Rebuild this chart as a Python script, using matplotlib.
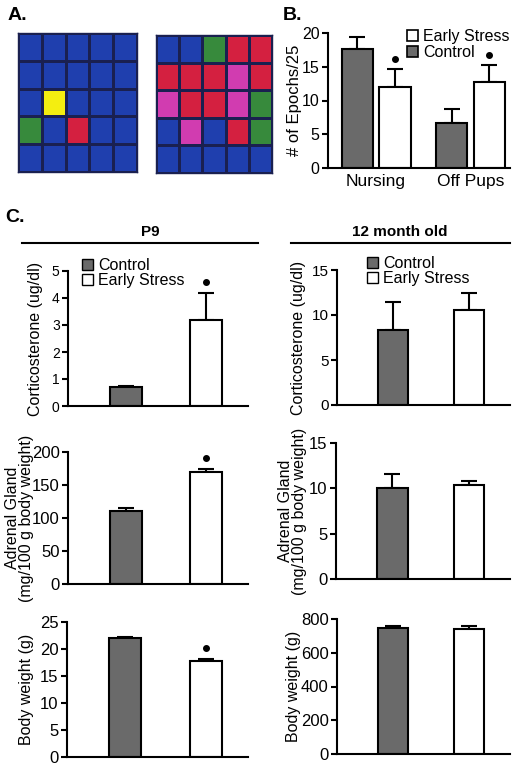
import numpy as np
import matplotlib
matplotlib.use('Agg')
import matplotlib.pyplot as plt
from matplotlib.colors import ListedColormap
from matplotlib.patches import Patch

plt.rcParams['font.family'] = ['Liberation Sans', 'DejaVu Sans']

W, H = 521, 765

# panel A: behaviour grids (B=blue, Y=yellow, G=green, R=red, M=magenta)
grid_control = ['BBBBB',
                'BBBBB',
                'BYBBB',
                'GBRBB',
                'BBBBB']
grid_stress = ['BBGRR',
               'RRRMR',
               'MRRMG',
               'BMBRG',
               'BBBBB']
grid_keys = 'BYGRM'
grid_colors = ['#1f3fae', '#f4ee10', '#378a3c', '#d42040', '#d13cb0']

# panel B: nursing behaviour
b_groups = ['Nursing', 'Off Pups']
b_control = [17.7, 6.6]
b_control_err = [1.7, 2.1]
b_stress = [12.0, 12.8]
b_stress_err = [2.6, 2.4]

# panel C
p9_cort = [0.7, 3.2]
p9_cort_err = [0.05, 1.0]
p9_adrenal = [110, 170]
p9_adrenal_err = [5, 5]
p9_body = [22.0, 17.7]
p9_body_err = [0.3, 0.5]
m12_cort = [8.3, 10.6]
m12_cort_err = [3.1, 1.9]
m12_adrenal = [10.0, 10.4]
m12_adrenal_err = [1.6, 0.4]
m12_body = [745, 738]
m12_body_err = [15, 20]

GRAY = '#6a6a6a'

fig = plt.figure(figsize=(W / 100, H / 100), dpi=100)


def px_axes(x0, y0, x1, y1):
    return fig.add_axes([x0 / W, 1 - y1 / H, (x1 - x0) / W, (y1 - y0) / H])


def style(ax, fs):
    for s in ['top', 'right']:
        ax.spines[s].set_visible(False)
    ax.spines['left'].set_linewidth(1.5)
    ax.spines['bottom'].set_linewidth(1.5)
    ax.tick_params(axis='y', direction='out', length=4, width=1.5, labelsize=fs, pad=2)
    ax.tick_params(axis='x', length=0, labelsize=12.5, pad=4)


def draw_grid(ax, rows):
    idx = np.array([[grid_keys.index(c) for c in r] for r in rows])
    ax.pcolormesh(idx, cmap=ListedColormap(grid_colors), vmin=0, vmax=4,
                  edgecolors='#1a2050', linewidth=0.8)
    ax.set_xlim(0, 5)
    ax.set_ylim(5, 0)
    ax.set_xticks([])
    ax.set_yticks([])
    for s in ax.spines.values():
        s.set_color('#1a2050')
        s.set_linewidth(1)


ax = px_axes(18, 33, 137, 172)
draw_grid(ax, grid_control)
ax = px_axes(156, 35, 272, 173)
draw_grid(ax, grid_stress)

fig.text(8 / W, 1 - 15 / H, 'A.', fontsize=14, fontweight='bold', va='center')
fig.text(283 / W, 1 - 15 / H, 'B.', fontsize=14, fontweight='bold', va='center')
fig.text(5 / W, 1 - 217 / H, 'C.', fontsize=14, fontweight='bold', va='center')


def bars(ax, xs, vals, errs, color):
    ax.bar(xs, vals, width=bw, color=color, edgecolor='black', linewidth=1.5, zorder=2)
    ax.errorbar(xs, vals, yerr=[np.zeros(len(errs)), errs], fmt='none',
                ecolor='black', elinewidth=1.5, capsize=6, capthick=1.5, zorder=1)


def star(ax, x, top, ymax):
    ax.plot(x, top + 0.08 * ymax, 'o', color='black', markersize=4, clip_on=False)


def place_label(ax, box, right_px):
    x0, y0, x1, y1 = box
    ax.yaxis.set_label_coords((right_px - x0) / (x1 - x0), 0.5)


# panel B
box = (328, 33, 510, 168)
ax = px_axes(*box)
bw = 0.33
x = np.arange(len(b_groups))
bars(ax, x - 0.2, b_control, b_control_err, GRAY)
bars(ax, x + 0.2, b_stress, b_stress_err, 'white')
for i in range(2):
    star(ax, x[i] + 0.2, b_stress[i] + b_stress_err[i], 20)
ax.set_xlim(-0.51, 1.42)
ax.set_ylim(0, 20)
ax.set_yticks([0, 5, 10, 15, 20])
ax.set_xticks(x)
ax.set_xticklabels(b_groups)
ax.set_ylabel('# of Epochs/25', fontsize=12)
place_label(ax, box, 302)
style(ax, 11.5)
ax.legend(handles=[Patch(facecolor='white', edgecolor='black', linewidth=1.2),
                   Patch(facecolor=GRAY, edgecolor='black', linewidth=1.2)],
          labels=['Early Stress', 'Control'], loc='upper left',
          bbox_to_anchor=(407 / W, 1 - 29 / H), bbox_transform=fig.transFigure,
          frameon=False, fontsize=11.5, handlelength=0.7, handleheight=0.7,
          handletextpad=0.3, labelspacing=0.05, borderpad=0, borderaxespad=0)

# headers in C
fig.text(150 / W, 1 - 232 / H, 'P9', fontsize=11, fontweight='bold', ha='center', va='center')
fig.text(400 / W, 1 - 232 / H, '12 month old', fontsize=11, fontweight='bold', ha='center', va='center')
fig.add_artist(plt.Line2D([22 / W, 258 / W], [1 - 243 / H] * 2, color='black', lw=1.5))
fig.add_artist(plt.Line2D([291 / W, 510 / W], [1 - 243 / H] * 2, color='black', lw=1.5))

panels = [
    # (box, values, errs, ymax, ticks, ylabel, label right px, stars, xlim, fs)
    ((68, 271, 248, 406), p9_cort, p9_cort_err, 5, [0, 1, 2, 3, 4, 5],
     'Corticosterone (ug/dl)', 43, True, (-0.725, 1.525), 10),
    ((68, 452, 248, 584), p9_adrenal, p9_adrenal_err, 200, [0, 50, 100, 150, 200],
     'Adrenal Gland\n(mg/100 g body weight)', 34, True, (-0.725, 1.525), 12),
    ((67, 622, 248, 757), p9_body, p9_body_err, 25, [0, 5, 10, 15, 20, 25],
     'Body weight (g)', 34, True, (-0.725, 1.525), 12),
    ((337, 270, 510, 405), m12_cort, m12_cort_err, 15, [0, 5, 10, 15],
     'Corticosterone (ug/dl)', 306, False, (-0.74, 1.54), 11),
    ((336, 443, 510, 579), m12_adrenal, m12_adrenal_err, 15, [0, 5, 10, 15],
     'Adrenal Gland\n(mg/100 g body weight)', 307, False, (-0.74, 1.54), 12),
    ((337, 619, 510, 754), m12_body, m12_body_err, 800, [0, 200, 400, 600, 800],
     'Body weight (g)', 301, False, (-0.74, 1.54), 12),
]

bw = 0.4
for box, vals, errs, ymax, ticks, ylab, lab_px, has_star, xl, fs in panels:
    ax = px_axes(*box)
    bars(ax, [0], vals[:1], errs[:1], GRAY)
    bars(ax, [1], vals[1:], errs[1:], 'white')
    if has_star:
        star(ax, 1, vals[1] + errs[1], ymax)
    ax.set_xlim(*xl)
    ax.set_ylim(0, ymax)
    ax.set_yticks(ticks)
    ax.set_xticks([])
    ax.set_ylabel(ylab, fontsize=11.5, linespacing=0.95)
    place_label(ax, box, lab_px)
    style(ax, fs)

for xa, ya in [(82, 258), (367, 256)]:
    fig.legend(handles=[Patch(facecolor=GRAY, edgecolor='black', linewidth=1),
                        Patch(facecolor='white', edgecolor='black', linewidth=1)],
               labels=['Control', 'Early Stress'], loc='upper left',
               bbox_to_anchor=(xa / W, 1 - ya / H), bbox_transform=fig.transFigure,
               frameon=False, fontsize=11.5, handlelength=0.7, handleheight=0.7,
               handletextpad=0.3, labelspacing=0.0, borderpad=0, borderaxespad=0)

fig.savefig('out.png', dpi=100)
